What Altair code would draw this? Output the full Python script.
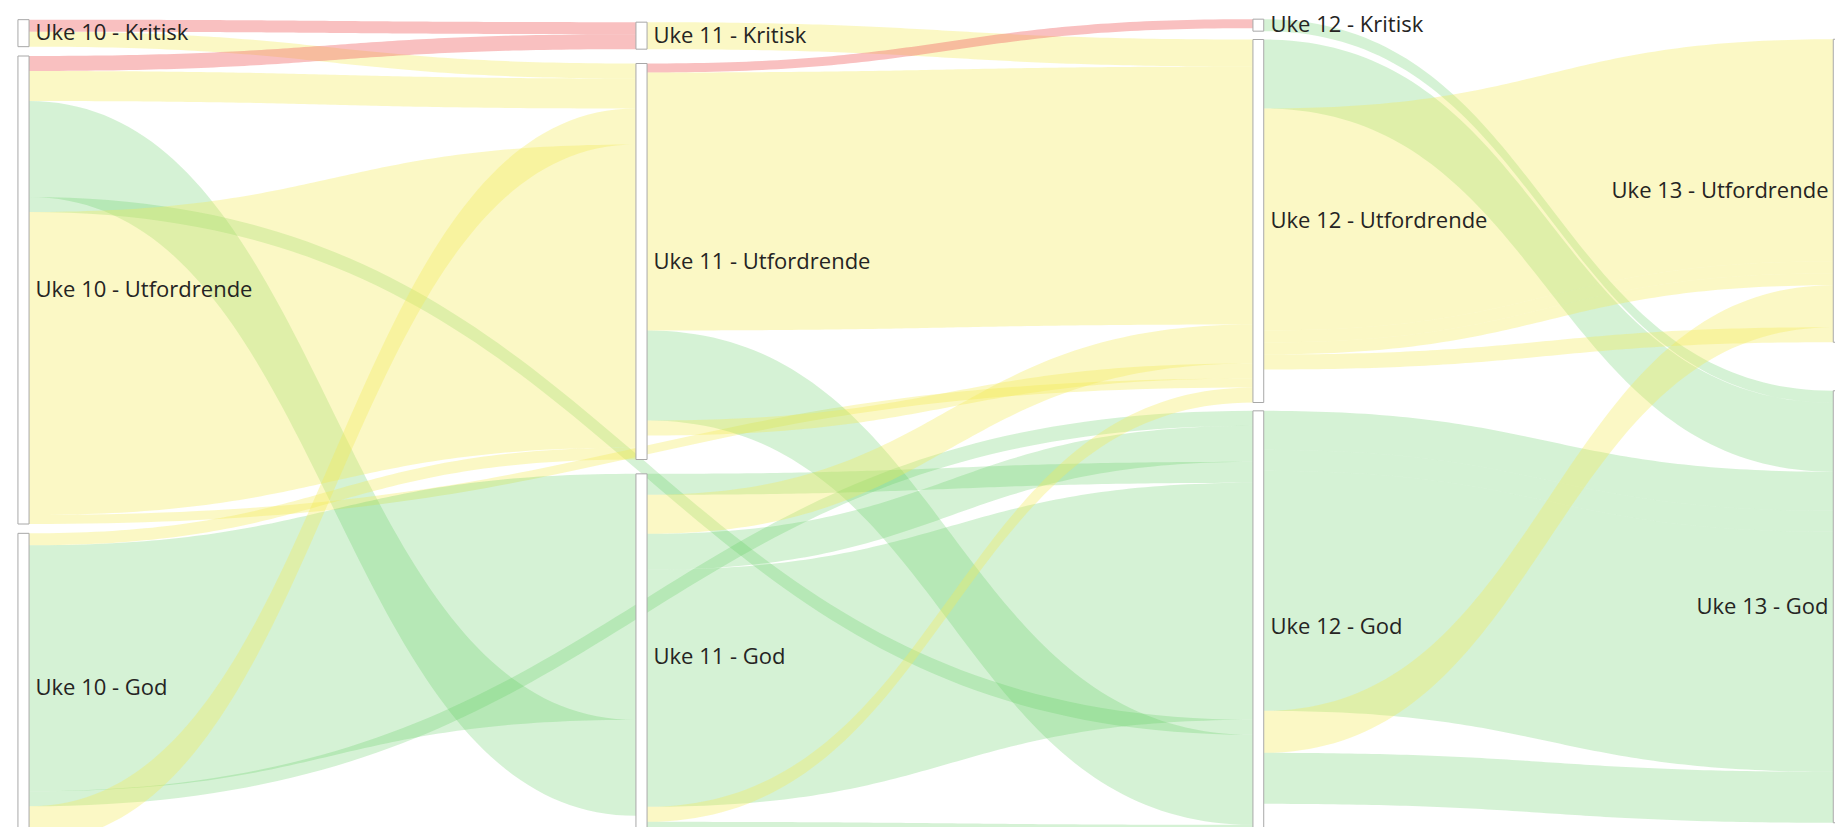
import altair as alt
import pandas as pd
import numpy as np

# ---------------- data ----------------
WEEKS = [10, 11, 12, 13]
STATUSES = ["Kritisk", "Utfordrende", "God"]

link_sources = [
    "Uke 10 - Kritisk", "Uke 10 - Kritisk",
    "Uke 10 - Utfordrende", "Uke 10 - Utfordrende", "Uke 10 - Utfordrende",
    "Uke 10 - Utfordrende", "Uke 10 - Utfordrende", "Uke 10 - Utfordrende",
    "Uke 10 - God", "Uke 10 - God", "Uke 10 - God", "Uke 10 - God",
    "Uke 11 - Kritisk",
    "Uke 11 - Utfordrende", "Uke 11 - Utfordrende", "Uke 11 - Utfordrende", "Uke 11 - Utfordrende",
    "Uke 11 - God", "Uke 11 - God", "Uke 11 - God", "Uke 11 - God", "Uke 11 - God", "Uke 11 - God",
    "Uke 12 - Kritisk",
    "Uke 12 - Utfordrende", "Uke 12 - Utfordrende", "Uke 12 - Utfordrende",
    "Uke 12 - Utfordrende", "Uke 12 - Utfordrende",
    "Uke 12 - God", "Uke 12 - God", "Uke 12 - God", "Uke 12 - God", "Uke 12 - God",
]
link_targets = [
    "Uke 11 - Kritisk", "Uke 11 - Utfordrende",
    "Uke 11 - Kritisk", "Uke 11 - Utfordrende", "Uke 11 - God",
    "Uke 12 - God", "Uke 11 - Utfordrende", "Uke 12 - Utfordrende",
    "Uke 11 - Utfordrende", "Uke 11 - God", "Uke 12 - God", "Uke 11 - Utfordrende",
    "Uke 12 - Utfordrende",
    "Uke 12 - Kritisk", "Uke 12 - Utfordrende", "Uke 12 - God", "Uke 12 - Utfordrende",
    "Uke 12 - God", "Uke 12 - Utfordrende", "Uke 12 - God", "Uke 12 - God", "Uke 12 - Utfordrende", "Uke 12 - God",
    "Uke 13 - God",
    "Uke 13 - God", "Uke 13 - Utfordrende", "Uke 13 - Utfordrende",
    "Uke 13 - Utfordrende", "Uke 13 - Utfordrende",
    "Uke 13 - God", "Uke 13 - God", "Uke 13 - God", "Uke 13 - Utfordrende", "Uke 13 - God",
]
link_values = [
    4, 5,
    5, 10, 32, 5, 101, 3,
    4, 82, 5, 12,
    9,
    3, 86, 30, 5,
    7, 13, 12, 79, 5, 6,
    4,
    23, 74, 4, 4, 5,
    13, 7, 80, 14, 17,
]
# order in which links arrive (top to bottom) at their target node
arrival_rank = [
    0, 0,
    1, 1, 1, 4, 3, 4,
    4, 0, 0, 2,
    0,
    0, 1, 5, 3,
    2, 2, 1, 3, 5, 6,
    0,
    1, 0, 1, 2, 4,
    2, 3, 4, 3, 5,
]

STATUS_COLORS = ["#F06A6A", "#F3EB55", "#5CCB5C"]
STATUS_OPACITY = [0.42, 0.26, 0.3]

# ---------------- layout ----------------
W, H = 1827, 819
PX_PER_UNIT = 3.0
EXT_TOP = 7 / PX_PER_UNIT       # vertical extent of the columns (value units)
EXT_BOTTOM = 839 / PX_PER_UNIT
EPS = 0.009                     # half node width in week units
N = 90

def week_of(name):
    return int(name.split(" - ")[0].split()[1])

def status_of(name):
    return name.split(" - ")[1]

node_names = [f"Uke {w} - {s}" for w in WEEKS for s in STATUSES]
in_sum = {n: 0.0 for n in node_names}
out_sum = {n: 0.0 for n in node_names}
for s, t, v in zip(link_sources, link_targets, link_values):
    out_sum[s] += v
    in_sum[t] += v
present = [n for n in node_names if in_sum[n] + out_sum[n] > 0]
height = {n: max(in_sum[n], out_sum[n]) for n in present}

# "space-around" distribution of the nodes of each column
node_top = {}
for w in WEEKS:
    col = [n for n in present if week_of(n) == w]
    extra = (EXT_BOTTOM - EXT_TOP) - sum(height[n] for n in col)
    gap = extra / len(col)
    y = EXT_TOP + gap / 2
    for n in col:
        node_top[n] = y
        y += height[n] + gap

# stacking offsets
src_off = {n: 0.0 for n in present}
src_y = []
for s, v in zip(link_sources, link_values):
    src_y.append(node_top[s] + src_off[s])
    src_off[s] += v
tgt_y = [0.0] * len(link_values)
for n in present:
    idx = [i for i, t in enumerate(link_targets) if t == n]
    idx.sort(key=lambda i: arrival_rank[i])
    off = 0.0
    for i in idx:
        tgt_y[i] = node_top[n] + off
        off += link_values[i]

rows = []
tt = np.linspace(0, 1, N)
for i, (s, t, v) in enumerate(zip(link_sources, link_targets, link_values)):
    xs = week_of(s) + EPS
    xt = week_of(t) - EPS
    xm = (xs + xt) / 2
    a = (1 - tt) ** 3
    b = 3 * (1 - tt) ** 2 * tt
    c = 3 * (1 - tt) * tt ** 2
    d = tt ** 3
    xx = a * xs + (b + c) * xm + d * xt
    y0 = (a + b) * src_y[i] + (c + d) * tgt_y[i]
    for k in range(N):
        rows.append({
            "link": i,
            "status": status_of(t),
            "x": float(xx[k]),
            "y0": float(y0[k]),
            "y1": float(y0[k] + v),
        })
links_df = pd.DataFrame(rows)

nodes_df = pd.DataFrame([{
    "name": n,
    "week": week_of(n),
    "xa": week_of(n) - EPS,
    "xb": week_of(n) + EPS,
    "top": node_top[n],
    "bottom": node_top[n] + height[n],
    "mid": node_top[n] + height[n] / 2,
} for n in present])

xscale = alt.Scale(domain=[10, 11, 12, 13], range=[15.5, 633.5, 1250.5, 1830.5])
yscale = alt.Scale(domain=[0, H / PX_PER_UNIT], reverse=True, nice=False, zero=False)

links = alt.Chart(links_df).mark_area(clip=True, interpolate="linear").encode(
    x=alt.X("x:Q", scale=xscale, axis=None),
    y=alt.Y("y0:Q", scale=yscale, axis=None),
    y2="y1:Q",
    detail="link:N",
    color=alt.Color("status:N", scale=alt.Scale(domain=STATUSES, range=STATUS_COLORS), legend=None),
    fillOpacity=alt.FillOpacity("status:N", scale=alt.Scale(domain=STATUSES, range=STATUS_OPACITY), legend=None),
)

rects = alt.Chart(nodes_df).mark_rect(clip=True, fill="white", stroke="#a8a8a8", strokeWidth=1).encode(
    x=alt.X("xa:Q", scale=xscale, axis=None),
    x2="xb:Q",
    y=alt.Y("top:Q", scale=yscale, axis=None),
    y2="bottom:Q",
)

text_style = dict(baseline="middle", font="Open Sans", fontSize=22, color="#252423")
labels_left = alt.Chart(nodes_df).transform_filter("datum.week < 13").mark_text(
    align="left", dx=12, **text_style
).encode(
    x=alt.X("week:Q", scale=xscale, axis=None),
    y=alt.Y("mid:Q", scale=yscale, axis=None),
    text="name:N",
)
labels_right = alt.Chart(nodes_df).transform_filter("datum.week == 13").mark_text(
    align="right", dx=-10, **text_style
).encode(
    x=alt.X("week:Q", scale=xscale, axis=None),
    y=alt.Y("mid:Q", scale=yscale, axis=None),
    text="name:N",
)

chart = alt.layer(links, rects, labels_left, labels_right).properties(
    width=W, height=H, padding=0, autosize=alt.AutoSizeParams(type="none")
).configure_view(stroke=None)

chart.save("out.html", embed_options={"renderer": "svg", "actions": False})
